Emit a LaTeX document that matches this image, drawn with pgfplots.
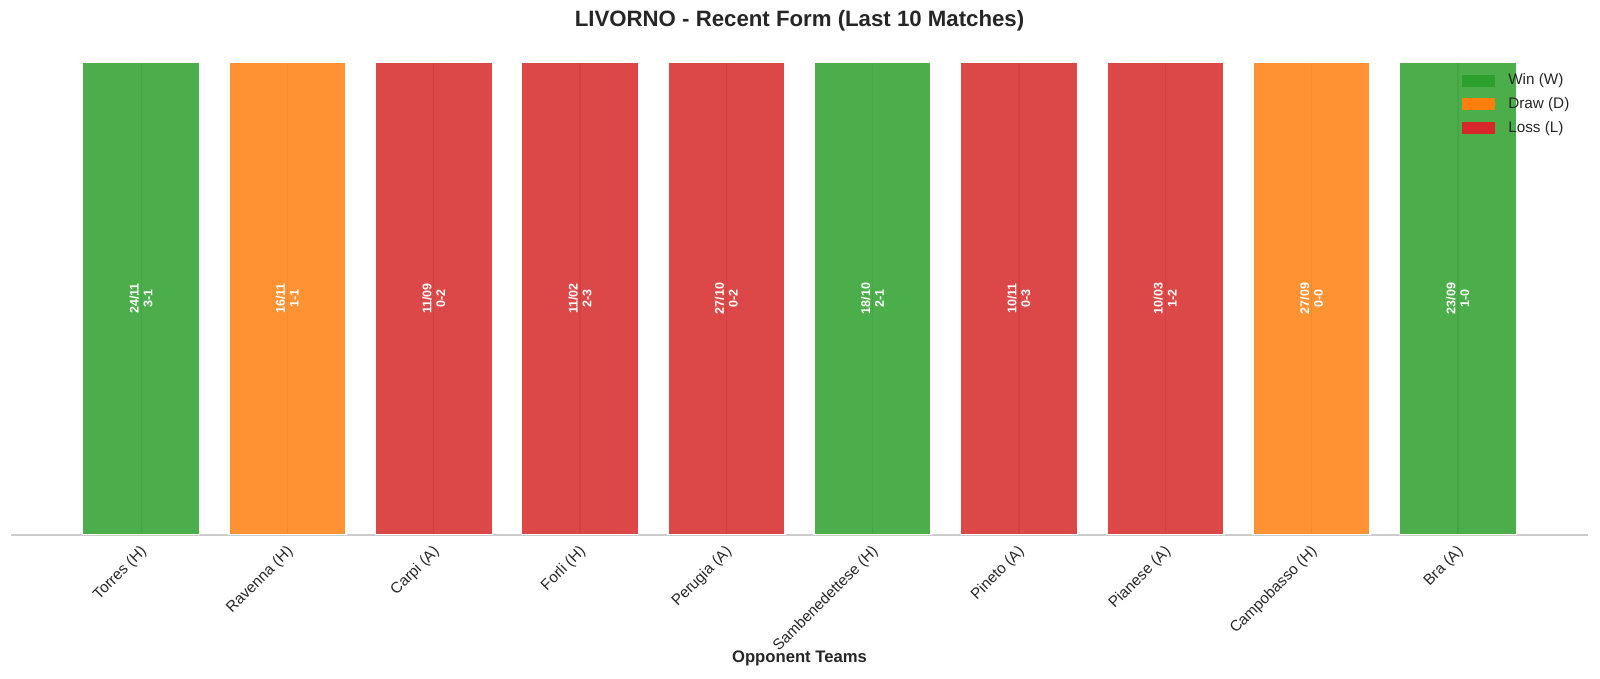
\documentclass[border=0pt]{standalone}
\usepackage{fontspec}
\setmainfont{Liberation Sans}
\usepackage{pgfplots}
\usepackage{pgfplotstable}
\pgfplotsset{compat=1.18}

\definecolor{cwin}{HTML}{2CA02C}
\definecolor{cdraw}{HTML}{FF7F0E}
\definecolor{closs}{HTML}{D62728}
\definecolor{gridgray}{HTML}{CCCCCC}
\definecolor{txt}{HTML}{262626}

% last 10 matches, oldest on the left
\pgfplotstableread[col sep=comma]{
x,y,date,score,name
0,0.5,24/11,3-1,Torres (H)
1,0.5,16/11,1-1,Ravenna (H)
2,0.5,11/09,0-2,Carpi (A)
3,0.5,11/02,2-3,Forli (H)
4,0.5,27/10,0-2,Perugia (A)
5,0.5,18/10,2-1,Sambenedettese (H)
6,0.5,10/11,0-3,Pineto (A)
7,0.5,10/03,1-2,Pianese (A)
8,0.5,27/09,0-0,Campobasso (H)
9,0.5,23/09,1-0,Bra (A)
}\matches

\pgfplotsset{
  barlabel/.style={only marks, mark=*, mark size=0pt,
    mark options={draw=none, fill=none}, forget plot,
    point meta=explicit symbolic, nodes near coords,
    every node near coord/.append style={xshift=#1, anchor=center, rotate=90,
      font=\bfseries\fontsize{9}{10}\selectfont, text=white, inner sep=0pt}},
  resbar/.style={ybar, bar width=0.8, bar shift=0pt, fill=#1, fill opacity=0.85,
    draw=white, line width=1.1pt, forget plot},
}

\begin{document}
\begin{tikzpicture}
\useasboundingbox (-7.92pt,-103.68pt) rectangle (1144.08pt,385.2pt);
\begin{axis}[
  scale only axis,
  width=1135.44pt, height=340.56pt,
  xmin=-0.89, xmax=9.89, ymin=0, ymax=1,
  axis x line=bottom, axis y line=none,
  x axis line style={-, draw=gridgray, line width=1.25pt},
  xtick={0,...,9},
  xticklabels from table={\matches}{name},
  ytick=\empty,
  major tick length=0pt,
  xmajorgrids, grid style={draw=gridgray, line width=1pt},
  xticklabel style={xshift=-1.4pt, yshift=-6.5pt, rotate=45, anchor=north east,
    inner sep=0pt, font=\fontsize{11}{13}\selectfont, text=txt},
  title={LIVORNO - Recent Form (Last 10 Matches)},
  every axis title/.style={at={(axis description cs:0.5,1)}, anchor=center,
    yshift=29.9pt, font=\bfseries\fontsize{16}{19}\selectfont, text=txt},
  xlabel={Opponent Teams},
  every axis x label/.style={at={(axis description cs:0.5,0)}, anchor=center,
    yshift=-88.56pt, font=\bfseries\fontsize{12}{14}\selectfont, text=txt},
  legend style={at={(axis description cs:0.92,0.9755)}, anchor=north west,
    draw=none, fill=none, inner sep=0pt, row sep=7.5pt,
    font=\fontsize{11}{13}\selectfont, text=txt,
    nodes={inner sep=0pt, text=txt}},
  legend cell align=left,
  legend image code/.code={
    \fill[#1] (0pt,-4pt) rectangle (23pt,4pt);
    \path[draw=none, fill=none] (0pt,0pt) rectangle (33pt,0pt);},
]
\addplot[resbar=cwin] coordinates {(0,1) (5,1) (9,1)};
\addplot[resbar=cdraw] coordinates {(1,1) (8,1)};
\addplot[resbar=closs] coordinates {(2,1) (3,1) (4,1) (6,1) (7,1)};

% date and score written in the middle of each bar
\addplot[barlabel=-5pt] table[x=x, y=y, meta=date] {\matches};
\addplot[barlabel=5pt] table[x=x, y=y, meta=score] {\matches};

\addlegendimage{cwin}
\addlegendentry{Win (W)}
\addlegendimage{cdraw}
\addlegendentry{Draw (D)}
\addlegendimage{closs}
\addlegendentry{Loss (L)}
\end{axis}
\end{tikzpicture}
\end{document}
